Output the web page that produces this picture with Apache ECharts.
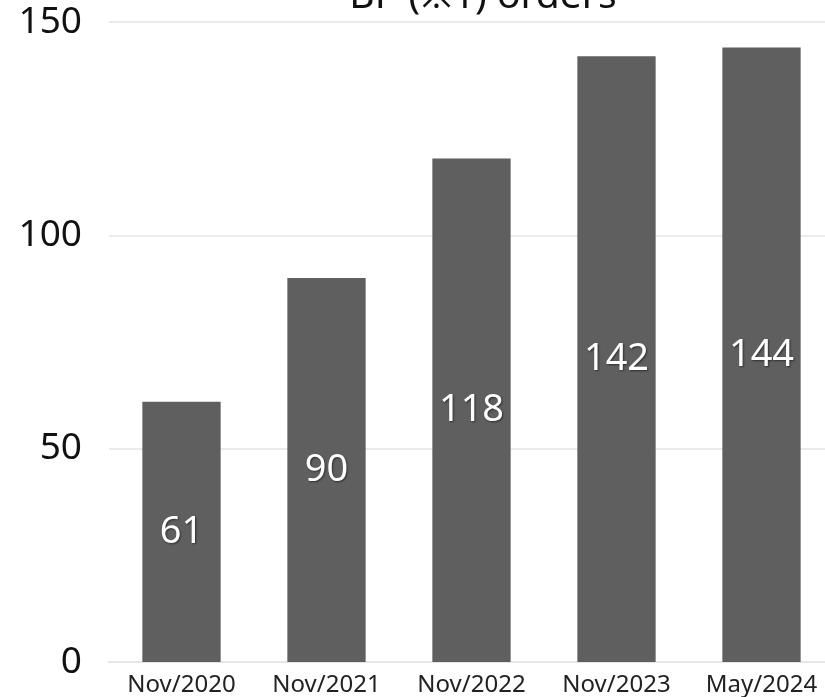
<!DOCTYPE html>
<html><head><meta charset="utf-8">
<script src="https://cdn.jsdelivr.net/npm/echarts@6/dist/echarts.min.js"></script>
<style>html,body{margin:0;padding:0;background:#fff}#c{width:825px;height:697px}</style>
</head><body><div id="c"></div>
<script>
const titleText = 'BP (※1) orders';
const categories = ['Nov/2020', 'Nov/2021', 'Nov/2022', 'Nov/2023', 'May/2024'];
const orders = [61, 90, 118, 142, 144];
const yTicks = [0, 50, 100, 150];

const chart = echarts.init(document.getElementById('c'));
chart.setOption({
  animation: false,
  title: {
    text: titleText, left: 478, textAlign: 'center', top: -28,
    textStyle: {fontFamily: 'Noto Sans', fontSize: 39, fontWeight: 'normal', color: '#111'}
  },
  grid: {left: 109, right: -9, top: 22, bottom: 35, outerBoundsMode: 'none', containLabel: false},
  xAxis: {
    type: 'category', data: categories,
    axisLine: {lineStyle: {color: '#e6e6e6', width: 2}},
    axisTick: {show: false},
    axisLabel: {fontFamily: 'Noto Sans', fontSize: 24, color: '#222', margin: 11, interval: 0, hideOverlap: false}
  },
  yAxis: {
    type: 'value', min: yTicks[0], max: yTicks[yTicks.length - 1], interval: 50,
    axisLine: {show: false}, axisTick: {show: false},
    splitLine: {lineStyle: {color: '#ebebeb', width: 2}},
    axisLabel: {fontFamily: 'Noto Sans', fontSize: 37, color: '#111', margin: 27}
  },
  series: [{
    type: 'bar', data: orders, barWidth: '54%',
    itemStyle: {color: '#5f5f5f'},
    label: {
      show: true, position: 'inside', color: '#fff', fontFamily: 'Noto Sans', fontSize: 38,
      textShadowColor: 'rgba(0,0,0,0.5)', textShadowBlur: 2, textShadowOffsetX: 1, textShadowOffsetY: 1
    }
  }]
});
</script></body></html>
